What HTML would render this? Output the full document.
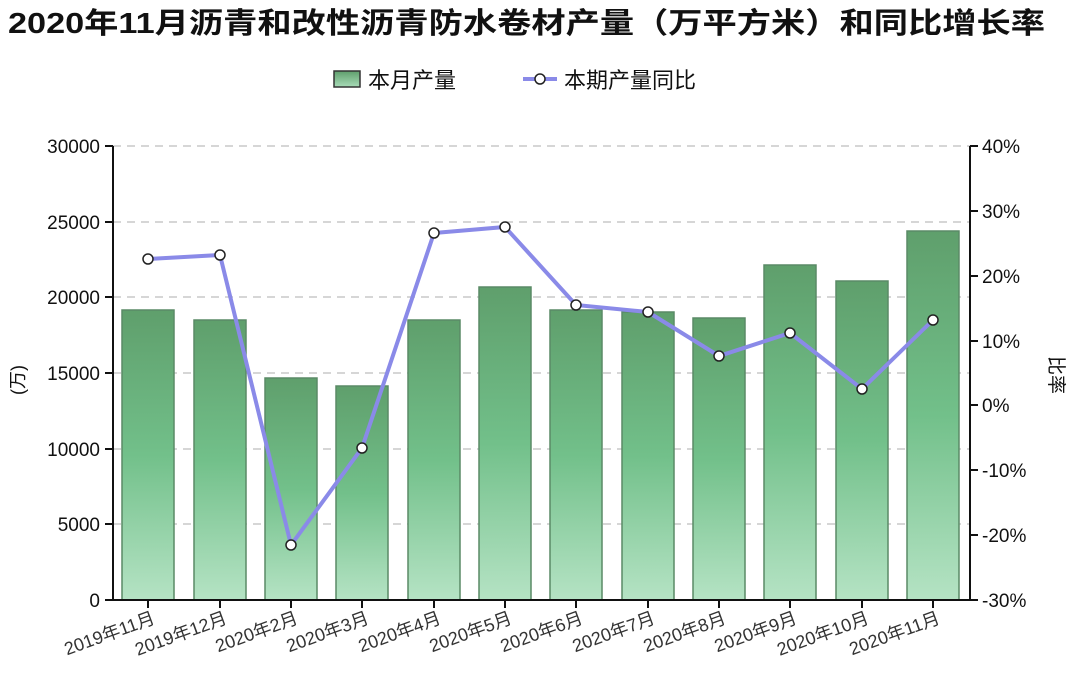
<!DOCTYPE html>
<html><head><meta charset="utf-8"><style>body{margin:0;background:#fff}svg{display:block}</style></head><body>
<svg width="1080" height="686" xmlns="http://www.w3.org/2000/svg" font-family="'Liberation Sans','Noto Sans CJK SC',sans-serif">
<defs><linearGradient id="g" x1="0" y1="0" x2="0" y2="1"><stop offset="0" stop-color="#5f9f6c"/><stop offset="0.5" stop-color="#72c08a"/><stop offset="1" stop-color="#b5e3c4"/></linearGradient>
<linearGradient id="lg" x1="0" y1="0" x2="0" y2="1"><stop offset="0" stop-color="#5f9f6c"/><stop offset="1" stop-color="#a8dcb8"/></linearGradient></defs>
<text x="8" y="33" font-size="29" font-weight="bold" textLength="1037" lengthAdjust="spacingAndGlyphs" fill="#111">2020年11月沥青和改性沥青防水卷材产量（万平方米）和同比增长率</text>
<rect x="334" y="71" width="26" height="16" fill="url(#lg)" stroke="#333" stroke-width="1.5"/>
<text x="368" y="88" font-size="22" fill="#111">本月产量</text>
<line x1="523" y1="79" x2="557" y2="79" stroke="#8a8ae8" stroke-width="4"/>
<circle cx="540" cy="79" r="5" fill="#fff" stroke="#222" stroke-width="1.5"/>
<text x="564" y="88" font-size="22" fill="#111">本期产量同比</text>
<g stroke="#c8c8c8" stroke-width="1.5" stroke-dasharray="8,6">
<line x1="113" y1="146" x2="970" y2="146"/><line x1="113" y1="222" x2="970" y2="222"/><line x1="113" y1="297" x2="970" y2="297"/><line x1="113" y1="373" x2="970" y2="373"/><line x1="113" y1="449" x2="970" y2="449"/><line x1="113" y1="524" x2="970" y2="524"/></g>
<g fill="url(#g)" stroke="#5a8a66" stroke-width="1.5">
<rect x="122" y="310" width="52" height="290"/><rect x="194" y="320" width="52" height="280"/><rect x="265" y="378" width="52" height="222"/><rect x="336" y="386" width="52" height="214"/><rect x="408" y="320" width="52" height="280"/><rect x="479" y="287" width="52" height="313"/><rect x="550" y="310" width="52" height="290"/><rect x="622" y="312" width="52" height="288"/><rect x="693" y="318" width="52" height="282"/><rect x="764" y="265" width="52" height="335"/><rect x="836" y="281" width="52" height="319"/><rect x="907" y="231" width="52" height="369"/></g>
<g stroke="#111" stroke-width="2" fill="none">
<line x1="113" y1="146" x2="113" y2="600"/><line x1="970" y1="146" x2="970" y2="600"/><line x1="105" y1="600" x2="970" y2="600"/>
<path d="M105 146h8M105 222h8M105 297h8M105 373h8M105 449h8M105 524h8M970 146h8M970 211h8M970 276h8M970 341h8M970 405h8M970 470h8M970 535h8M970 600h8"/>
<path d="M148 600v8M220 600v8M291 600v8M362 600v8M434 600v8M505 600v8M576 600v8M648 600v8M719 600v8M790 600v8M862 600v8M933 600v8"/></g>
<g font-size="19" fill="#111" text-anchor="end">
<text x="100" y="153">30000</text><text x="100" y="229">25000</text><text x="100" y="304">20000</text><text x="100" y="380">15000</text><text x="100" y="456">10000</text><text x="100" y="531">5000</text><text x="100" y="607">0</text></g>
<g font-size="19" fill="#111">
<text x="982" y="153">40%</text><text x="982" y="218">30%</text><text x="982" y="283">20%</text><text x="982" y="348">10%</text><text x="982" y="412">0%</text><text x="982" y="477">-10%</text><text x="982" y="542">-20%</text><text x="982" y="607">-30%</text></g>
<text transform="translate(24,380) rotate(-90)" font-size="18" text-anchor="middle" fill="#111">(万)</text>
<text transform="translate(1050,375) rotate(90)" font-size="19" text-anchor="middle" fill="#111">比率</text>
<g font-size="18" fill="#333" text-anchor="end">
<text transform="translate(156,623) rotate(-20)">2019年11月</text><text transform="translate(228,623) rotate(-20)">2019年12月</text><text transform="translate(299,623) rotate(-20)">2020年2月</text><text transform="translate(370,623) rotate(-20)">2020年3月</text><text transform="translate(442,623) rotate(-20)">2020年4月</text><text transform="translate(513,623) rotate(-20)">2020年5月</text><text transform="translate(584,623) rotate(-20)">2020年6月</text><text transform="translate(656,623) rotate(-20)">2020年7月</text><text transform="translate(727,623) rotate(-20)">2020年8月</text><text transform="translate(798,623) rotate(-20)">2020年9月</text><text transform="translate(870,623) rotate(-20)">2020年10月</text><text transform="translate(941,623) rotate(-20)">2020年11月</text></g>
<polyline points="148,259 220,255 291,545 362,448 434,233 505,227 576,305 648,312 719,356 790,333 862,389 933,320" fill="none" stroke="#8a8ae8" stroke-width="4"/>
<g fill="#fff" stroke="#222" stroke-width="1.5">
<circle cx="148" cy="259" r="5"/><circle cx="220" cy="255" r="5"/><circle cx="291" cy="545" r="5"/><circle cx="362" cy="448" r="5"/><circle cx="434" cy="233" r="5"/><circle cx="505" cy="227" r="5"/><circle cx="576" cy="305" r="5"/><circle cx="648" cy="312" r="5"/><circle cx="719" cy="356" r="5"/><circle cx="790" cy="333" r="5"/><circle cx="862" cy="389" r="5"/><circle cx="933" cy="320" r="5"/></g>
</svg>
</body></html>
